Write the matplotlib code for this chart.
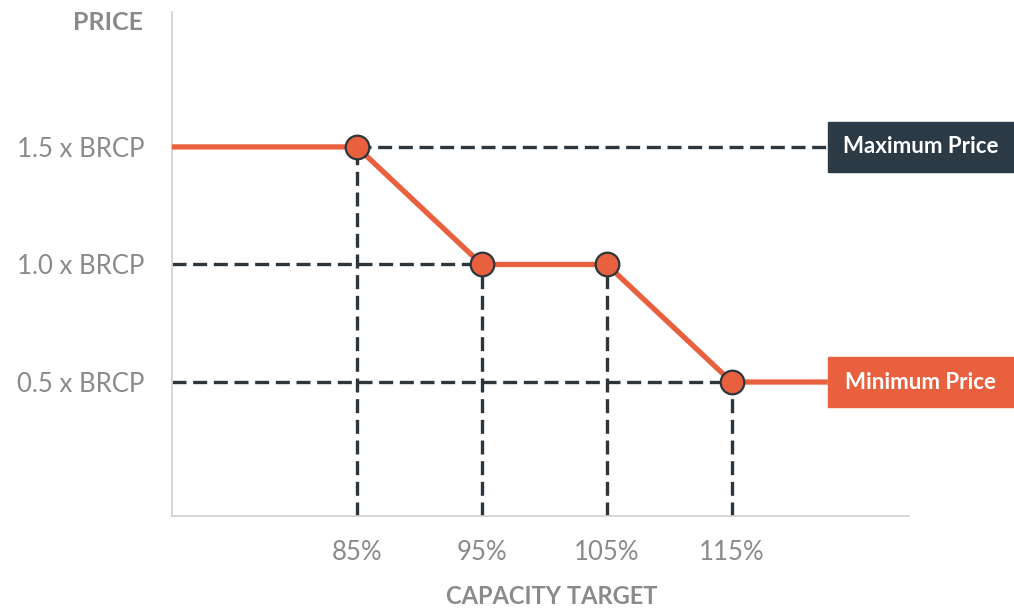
import matplotlib
matplotlib.use("Agg")
from matplotlib import pyplot as plt
from matplotlib.patches import Rectangle

# capacity target (%) vs price multiple of BRCP
capacity = [85, 95, 105, 115]
price = [1.5, 1.0, 1.0, 0.5]
x_labels = ["85%", "95%", "105%", "115%"]
y_ticks = [0.5, 1.0, 1.5]
y_labels = ["0.5 x BRCP", "1.0 x BRCP", "1.5 x BRCP"]
max_price = 1.5
min_price = 0.5

ORANGE = "#e8603e"
DARK = "#2c3a46"
GREY = "#8a8a8a"
DASH = "#2d353d"

plt.rcParams['font.family'] = ['Lato', 'DejaVu Sans']

fig = plt.figure(figsize=(10.14, 6.10), dpi=100)
ax = fig.add_axes([172 / 1014, 1 - 516 / 610, 1 - 172 / 1014, (516 - 12) / 610])
xmin, xmax = 70.2, 137.6
ax.set_xlim(xmin, xmax)
ax.set_ylim(-0.07, 2.074)
x_axis_end = 129.2
box_x = 122.7

for s in ["top", "right"]:
    ax.spines[s].set_visible(False)
ax.spines["left"].set_color("#d0d0d0")
ax.spines["bottom"].set_color("#d0d0d0")
ax.spines["left"].set_linewidth(1.2)
ax.spines["bottom"].set_linewidth(1.2)
ax.spines["bottom"].set_bounds(xmin, x_axis_end)

dash_kw = dict(color=DASH, lw=2.4, dashes=(4.2, 2.0), zorder=2, solid_capstyle="butt")

# guide lines down to the axes
for x, y in zip(capacity, price):
    ax.plot([x, x], [ax.get_ylim()[0], y], **dash_kw)
ax.plot([capacity[0], box_x], [price[0], price[0]], **dash_kw)
ax.plot([xmin, capacity[1]], [price[1], price[1]], **dash_kw)
ax.plot([xmin, capacity[3]], [price[3], price[3]], **dash_kw)

# price curve
curve_x = [xmin] + capacity + [box_x]
curve_y = [price[0]] + price + [price[-1]]
ax.plot(curve_x, curve_y, color=ORANGE, lw=3.8, zorder=3, solid_capstyle="butt")
ax.plot(capacity, price, "o", ms=17, mfc=ORANGE, mec=DASH, mew=1.6, zorder=4)

# label boxes on the right
for y, text, col in [(max_price, "Maximum Price", DARK), (min_price, "Minimum Price", ORANGE)]:
    ax.add_patch(Rectangle((box_x, y - 0.107), xmax - box_x, 0.214, color=col,
                           clip_on=False, zorder=5))
    ax.text((box_x + xmax) / 2, y, text, color="white", fontsize=16, fontweight="bold",
            va="center", ha="center", zorder=6)

ax.set_xticks(capacity)
ax.set_xticklabels(x_labels)
ax.set_yticks(y_ticks)
ax.set_yticklabels(y_labels)
ax.tick_params(length=0, labelcolor=GREY, labelsize=18.5)
ax.tick_params(axis="x", pad=17)
ax.tick_params(axis="y", pad=20)

fig.text(143 / 1014, 1 - 22 / 610, "PRICE", ha="right", va="center", color=GREY,
         fontsize=18, fontweight="bold")
fig.text(552 / 1014, 1 - 597 / 610, "CAPACITY TARGET", ha="center", va="center",
         color=GREY, fontsize=17, fontweight="bold")

fig.savefig("out.png", dpi=100)
